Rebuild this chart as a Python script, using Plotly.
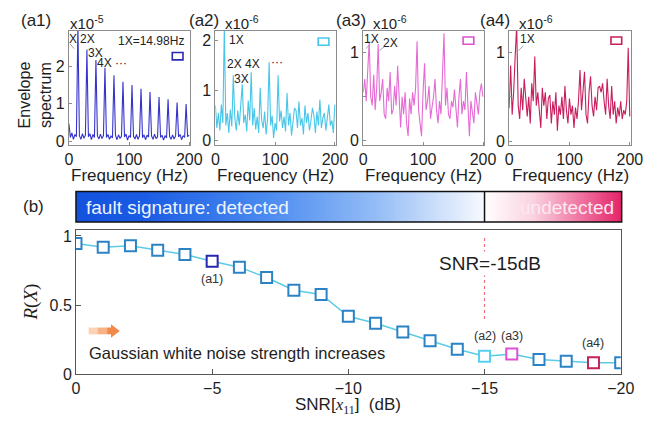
import numpy as np
import plotly.graph_objects as go

W, H = 660, 424

# ---------------- data ----------------
# envelope spectra, sampled every 1X/6 Hz (1X = 14.98 Hz)
fault_freq = 14.98
df = fault_freq / 6

spec_a1 = [0.47, 0.10, 0.22, 0.05, 0.18, 0.12, 3.10,
           0.15, 0.05, 0.20, 0.08, 0.16, 2.45,
           0.12, 0.20, 0.04, 0.18, 0.10, 2.17,
           0.14, 0.06, 0.19, 0.07, 0.15, 1.96,
           0.10, 0.18, 0.05, 0.14, 0.09, 1.76,
           0.16, 0.04, 0.17, 0.08, 0.13, 1.59,
           0.11, 0.19, 0.03, 0.15, 0.10, 1.50,
           0.13, 0.06, 0.18, 0.05, 0.14, 1.40,
           0.09, 0.17, 0.04, 0.16, 0.11, 1.31,
           0.14, 0.05, 0.19, 0.07, 0.12, 1.18,
           0.10, 0.16, 0.03, 0.15, 0.09, 1.12,
           0.13, 0.05, 0.17, 0.06, 0.14, 1.03,
           0.11, 0.18, 0.04, 0.15, 0.10, 0.99,
           0.12, 0.16]

spec_a2 = [0.70, 0.25, 0.55, 0.20, 0.72, 0.35, 2.30,
           0.30, 0.55, 0.15, 0.62, 0.28, 1.30,
           0.45, 0.20, 0.60, 0.30, 0.75, 1.12,
           0.35, 0.52, 0.18, 0.80, 0.40, 1.36,
           0.30, 0.65, 0.22, 0.48, 0.15, 1.05,
           0.40, 0.25, 0.58, 0.12, 0.45, 1.56,
           0.30, 0.50, 0.05, 0.35, 0.20, 1.30,
           0.38, 0.60, 0.25, 0.48, 0.18, 0.95,
           0.30, 0.55, 0.10, 0.42, 0.65, 0.60,
           0.25, 0.78, 0.30, 0.45, 0.12, 0.70,
           0.35, 0.55, 0.20, 0.40, 0.65, 0.50,
           0.15, 0.58, 0.30, 0.82, 0.25, 0.45,
           0.55, 0.20, 0.48, 0.72, 0.30, 0.40,
           0.15, 0.72]

spec_a3 = [0.55, 0.70, 0.45, 0.75, 1.13, 0.50, 0.40, 0.75, 0.35, 0.60,
           1.10, 0.45, 0.55, 0.70, 0.30, 0.25, 0.60, 0.45, 0.78, 0.30,
           0.35, 0.62, 0.40, 0.85, 0.40, 0.15, 0.50, 0.30, 0.55, 0.20,
           0.05, 0.48, 0.30, 0.55, 0.40, 0.60, 1.13, 0.35, 0.20, 0.05,
           0.55, 0.88, 0.35, 0.45, 0.62, 0.25, 0.38, 0.50, 0.70, 0.35,
           0.20, 0.45, 0.30, 0.80, 1.22, 0.40, 0.60, 0.30, 0.25, 0.45,
           0.38, 0.58, 0.35, 0.15, 0.50, 0.70, 0.30, 0.45, 0.35, 0.78,
           0.40, 0.05, 0.45, 0.30, 0.20, 0.55, 0.40, 0.30, 0.55, 0.65,
           0.50]

spec_a4 = [0.37, 0.85, 0.30, 0.55, 0.95, 1.30, 0.40, 0.25, 0.60, 0.35,
           0.70, 0.45, 0.28, 0.50, 0.20, 0.65, 0.45, 0.95, 0.40, 0.55,
           0.30, 0.15, 0.60, 0.40, 0.55, 0.25, 0.48, 0.52, 0.20, 0.45,
           0.30, 0.55, 0.12, 0.40, 0.30, 0.50, 0.25, 0.62, 0.35, 0.20,
           0.48, 0.30, 0.40, 0.15, 0.38, 0.25, 0.45, 0.80, 0.35, 0.55,
           0.78, 0.30, 0.20, 0.55, 0.73, 0.40, 0.28, 0.50, 0.35, 0.60,
           0.62, 0.55, 0.65, 0.45, 0.30, 0.70, 0.40, 0.25, 0.62, 0.30,
           0.45, 0.20, 0.38, 0.28, 0.45, 0.25, 0.35, 0.30, 0.45, 1.05,
           0.28]

# R(X) versus SNR
snr_db = [0, -1, -2, -3, -4, -5, -6, -7, -8, -9, -10,
          -11, -12, -13, -14, -15, -16, -17, -18, -19, -20]
r_x = [0.945, 0.918, 0.929, 0.896, 0.866, 0.816, 0.774, 0.699, 0.607, 0.576,
       0.419, 0.369, 0.306, 0.242, 0.181, 0.129, 0.146, 0.106, 0.094, 0.082, 0.082]

snr_threshold = -15

# ---------------- helpers ----------------
def px(x):
    return x / W

def py(y):
    return 1 - y / H

FONT = "Liberation Sans, Arial, sans-serif"
SERIF = "Liberation Serif, Times New Roman, serif"
TXT = "#1e1e1e"

fig = go.Figure()

panels = [
    dict(name="(a1)", exp="-5", data=spec_a1, color="#3434cc", yr=[-0.09, 2.95],
         yt=[0, 1, 2], ytt=["0", "1", "2"], x0=66.7, x1=191.7),
    dict(name="(a2)", exp="-6", data=spec_a2, color="#48c6ea", yr=[-0.08, 2.19],
         yt=[0, 1, 2], ytt=["0", "1", "2"], x0=217.3, x1=341.5),
    dict(name="(a3)", exp="-6", data=spec_a3, color="#e66ad6", yr=[-0.044, 1.25],
         yt=[0, 0.5, 1], ytt=["0", "", "1"], x0=369.3, x1=493.7),
    dict(name="(a4)", exp="-6", data=spec_a4, color="#c81e5e", yr=[-0.036, 1.24],
         yt=[0, 0.5, 1], ytt=["0", "", "1"], x0=519.3, x1=644.7),
]

top_y0, top_y1 = 28.5, 145.7
ann = []
shapes = []

for k, p in enumerate(panels, start=1):
    freqs = np.arange(len(p["data"])) * df
    fig.add_trace(go.Scatter(x=freqs, y=p["data"], mode="lines",
                             line=dict(color=p["color"], width=1.1),
                             xaxis=f"x{k}", yaxis=f"y{k}", showlegend=False,
                             hoverinfo="skip"))
    axstyle = dict(showline=True, linecolor="#8c8c8c", linewidth=1, mirror=True,
                   ticks="inside", ticklen=3, tickcolor="#8c8c8c",
                   showgrid=False, zeroline=False,
                   tickfont=dict(family=FONT, size=16, color=TXT))
    fig.update_layout(**{
        f"xaxis{k}": dict(domain=[px(p["x0"]), px(p["x1"])], range=[0, 202],
                          tickvals=[0, 100, 200], anchor=f"y{k}", **axstyle),
        f"yaxis{k}": dict(domain=[py(top_y1), py(top_y0)], range=p["yr"],
                          tickvals=p["yt"], ticktext=p["ytt"], anchor=f"x{k}",
                          **axstyle),
    })
    cx = (p["x0"] + p["x1"]) / 2
    ann.append(dict(text="Frequency (Hz)", x=px(cx), y=py(178), xref="paper",
                    yref="paper", showarrow=False, font=dict(size=17)))

# panel titles and exponents
for name, xc in [("(a1)", 33), ("(a2)", 206), ("(a3)", 357), ("(a4)", 505)]:
    ann.append(dict(text=name, x=px(xc), y=py(18), xref="paper", yref="paper",
                    showarrow=False, font=dict(size=17)))
for exp, x0 in [("-5", 66), ("-6", 225), ("-6", 377), ("-6", 527)]:
    ann.append(dict(text=f"x10<sup>{exp}</sup>", x=px(x0), y=py(20), xref="paper",
                    yref="paper", xanchor="left", showarrow=False,
                    font=dict(size=15)))

ann.append(dict(text="Envelope<br>spectrum", x=px(32), y=py(95), xref="paper",
                yref="paper", showarrow=False, textangle=-90,
                font=dict(size=16)))

# harmonic labels inside the spectra
small = dict(size=12, color="#222")
for txt, xc, yc in [("X", 71, 37), ("2X", 86, 37), ("3X", 94, 51), ("4X \u00b7\u00b7\u00b7", 111, 62),
                    ("1X=14.98Hz", 151, 39),
                    ("1X", 239, 38), ("2X 4X", 246, 63), ("3X", 244, 78), ("\u00b7\u00b7\u00b7", 281, 61),
                    ("1X", 378, 37), ("2X", 397, 41),
                    ("1X", 538, 37)]:
    ann.append(dict(text=txt, x=px(xc), y=py(yc), xref="paper", yref="paper",
                    showarrow=False, font=small))

for xa, ya, xb, yb in [(68, 42, 72, 47), (376, 43, 372, 47), (391, 45, 386, 49),
                       (534, 44, 529, 49)]:
    shapes.append(dict(type="line", xref="paper", yref="paper",
                       x0=px(xa), y0=py(ya), x1=px(xb), y1=py(yb),
                       line=dict(color="#a0a0a0", width=1)))

# coloured keys in the upper-right corners
for col, x0, y0 in [("#2a2ab0", 173, 51), ("#48c6ea", 323, 36),
                    ("#e050d0", 472, 35), ("#c82058", 624, 35)]:
    shapes.append(dict(type="rect", xref="paper", yref="paper",
                       x0=px(x0), x1=px(x0 + 11), y0=py(y0), y1=py(y0 + 7.5),
                       line=dict(color=col, width=1.6)))

# ---------------- detection bar ----------------
bar_x0, bar_x1, bar_y0, bar_y1 = 74, 635, 194, 225.5
ncol = 300
split = (494 - bar_x0) / (bar_x1 - bar_x0)
fig.add_trace(go.Heatmap(z=[list(range(ncol))], zmin=0, zmax=ncol - 1,
                         colorscale=[[0, "#1352de"], [0.12, "#1a5be4"],
                                     [0.35, "#4b8bf0"], [0.55, "#94bcf6"],
                                     [split - 0.002, "#f6f9fe"], [split, "#ffffff"],
                                     [split + 0.09, "#fad2e0"], [1, "#e6236a"]],
                         showscale=False, hoverinfo="skip",
                         xaxis="x6", yaxis="y6"))
fig.update_layout(
    xaxis6=dict(domain=[px(bar_x0), px(bar_x1)], range=[-0.5, ncol - 0.5],
                visible=False, anchor="y6"),
    yaxis6=dict(domain=[py(bar_y1), py(bar_y0)], range=[-0.5, 0.5],
                visible=False, anchor="x6"),
)
shapes.append(dict(type="rect", xref="paper", yref="paper",
                   x0=px(bar_x0), x1=px(bar_x1), y0=py(bar_y1), y1=py(bar_y0),
                   line=dict(color="#111", width=1.5)))
shapes.append(dict(type="line", xref="paper", yref="paper",
                   x0=px(494), x1=px(494), y0=py(bar_y1), y1=py(bar_y0),
                   line=dict(color="#111", width=1.5)))
ann.append(dict(text="fault signature: detected", x=px(82), y=py(210),
                xref="paper", yref="paper", xanchor="left", showarrow=False,
                font=dict(size=19, color="#eef4ff")))
ann.append(dict(text="undetected", x=px(629), y=py(210), xref="paper",
                yref="paper", xanchor="right", showarrow=False,
                font=dict(size=19, color="#fde8f0")))
ann.append(dict(text="(b)", x=px(30), y=py(209), xref="paper", yref="paper",
                showarrow=False, font=dict(size=17)))

# ---------------- R(X) curve ----------------
mk_colors = ["#2b82c4"] * len(snr_db)
mk_colors[snr_db.index(-5)] = "#2626b0"
mk_colors[snr_db.index(-15)] = "#55d0f0"
mk_colors[snr_db.index(-16)] = "#e050d0"
mk_colors[snr_db.index(-19)] = "#c82058"

fig.add_trace(go.Scatter(x=snr_db, y=r_x, mode="lines+markers",
                         line=dict(color="#5ccbe6", width=1.5),
                         marker=dict(symbol="square", size=11, color="white",
                                     line=dict(color=mk_colors, width=2)),
                         xaxis="x5", yaxis="y5", showlegend=False,
                         hoverinfo="skip"))
fig.add_trace(go.Scatter(x=[snr_threshold, snr_threshold], y=[0.40, 0.99],
                         mode="lines", line=dict(color="#e8707a", width=1.2, dash="dot"),
                         xaxis="x5", yaxis="y5", showlegend=False, hoverinfo="skip"))

bstyle = dict(showline=True, linecolor="#555", linewidth=1, mirror=True,
              ticks="inside", ticklen=5, tickcolor="#555", showgrid=False,
              zeroline=False, tickfont=dict(family=FONT, size=16, color=TXT))
fig.update_layout(
    xaxis5=dict(domain=[px(74), px(634)], range=[0, -20],
                tickvals=[0, -5, -10, -15, -20], anchor="y5", **bstyle),
    yaxis5=dict(domain=[py(382), py(234)], range=[0, 1.04],
                tickvals=[0, 0.5, 1], ticktext=["0", "0.5", "1"], anchor="x5",
                **bstyle),
)

ann.append(dict(text="SNR=-15dB", x=-15.2, y=0.80, xref="x5", yref="y5",
                showarrow=False, bgcolor="white", font=dict(size=19)))
for txt, xv, yv in [("(a1)", -5, 0.69), ("(a2)", -15, 0.275),
                    ("(a3)", -16, 0.275), ("(a4)", -19, 0.225)]:
    ann.append(dict(text=txt, x=xv, y=yv, xref="x5", yref="y5",
                    showarrow=False, font=dict(size=12.5, color="#333")))
ann.append(dict(text="Gaussian white noise strength increases", x=px(85),
                y=py(360), xref="paper", yref="paper", xanchor="left",
                showarrow=False, font=dict(size=16.5)))
ann.append(dict(text="<i>R</i>(<i>X</i>)", x=px(28), y=py(308), xref="paper",
                yref="paper", showarrow=False, textangle=-90,
                font=dict(family=SERIF, size=19)))
ann.append(dict(text=f"SNR[<span style='font-family:{SERIF}'><i>x</i><sub>11</sub></span>]  (dB)",
                x=px(354), y=py(414.5), xref="paper", yref="paper",
                showarrow=False, font=dict(size=17)))

# orange arrow: light tail, darker head
for x0, x1, col in [(87, 96, "#fbd2b4"), (96, 106, "#f8b284")]:
    shapes.append(dict(type="rect", xref="paper", yref="paper",
                       x0=px(x0), x1=px(x1), y0=py(341), y1=py(334),
                       line=dict(width=0), fillcolor=col))
shapes.append(dict(type="path", xref="paper", yref="paper",
                   path=(f"M {px(106)} {py(341)} L {px(110)} {py(341)} L {px(110)} {py(344.5)} "
                         f"L {px(119)} {py(337.5)} L {px(110)} {py(330.5)} L {px(110)} {py(334)} "
                         f"L {px(106)} {py(334)} Z"),
                   line=dict(width=0), fillcolor="#f2884a"))

# every free-floating text is positioned by its centre unless stated otherwise
for a in ann:
    a.setdefault("xanchor", "center")
    a.setdefault("yanchor", "middle")

fig.update_layout(
    width=W, height=H, margin=dict(l=0, r=0, t=0, b=0),
    paper_bgcolor="white", plot_bgcolor="white",
    font=dict(family=FONT, size=15, color=TXT),
    annotations=ann, shapes=shapes, showlegend=False,
)

fig.write_html("out.html")
